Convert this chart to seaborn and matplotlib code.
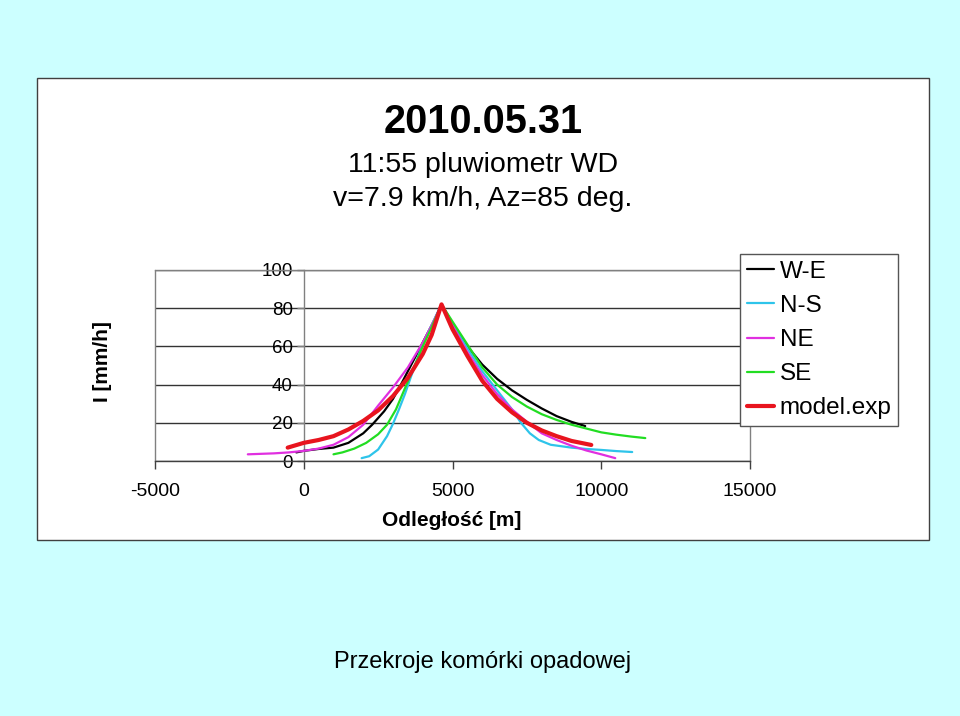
import matplotlib
matplotlib.use("Agg")
import matplotlib.pyplot as plt
from matplotlib.patches import Rectangle
from matplotlib.lines import Line2D
import seaborn as sns
import pandas as pd

# ---------------- data ----------------
we_x = [-250, 0, 500, 1000, 1500, 2000, 2300, 2700, 3000, 3300, 3700, 4100, 4400, 4631,
        5000, 5500, 6000, 6500, 7000, 7500, 8000, 8500, 9000, 9460]
we_y = [4.5, 5.3, 6.3, 7.0, 9.5, 14.5, 19, 26, 32.5, 41, 53, 65, 74, 82,
        72, 60, 50.5, 43, 37, 32, 27.5, 23.5, 20.5, 18.3]

ns_x = [1946, 2200, 2500, 2800, 3000, 3200, 3400, 3600, 3900, 4200, 4631,
        5000, 5500, 6000, 6500, 7000, 7300, 7600, 7900, 8300, 9000, 9500, 10000, 10500, 11040]
ns_y = [1.5, 2.5, 6, 13, 19.5, 27, 35, 44, 57, 68, 82,
        72, 59, 47, 37, 27, 20, 14.5, 11, 8.5, 7, 6.3, 5.8, 5.2, 4.7]

ne_x = [-1880, -1000, -500, 0, 500, 1000, 1500, 2000, 2350, 2500, 3000, 3500, 4000, 4300, 4631,
        5000, 5500, 6000, 6500, 7000, 7500, 8000, 8500, 9000, 9500, 10000, 10470]
ne_y = [3.5, 4, 4.5, 5.3, 6.5, 8.5, 12.5, 19, 26, 29, 38.5, 49, 62, 71, 82,
        71, 57, 45, 35, 27, 20.5, 14.5, 11, 8, 5.5, 3.5, 1.5]

se_x = [1000, 1300, 1700, 2100, 2500, 2800, 3100, 3400, 3700, 4000, 4300, 4631,
        5000, 5500, 6000, 6500, 7000, 7500, 8000, 8500, 9000, 9500, 10000, 10500, 11000, 11480]
se_y = [3.5, 4.5, 6.5, 9.5, 14, 19, 27, 38, 49, 60, 70, 82,
        73, 61, 49, 40, 33.5, 28.5, 24.5, 21.5, 19, 17, 15, 13.8, 12.8, 12]

model_x = [-540, 0, 500, 1000, 1500, 2000, 2500, 3000, 3500, 4000, 4300, 4631,
           5000, 5500, 6000, 6500, 7000, 7500, 8000, 8500, 9000, 9665]
model_y = [7, 9.5, 11, 13, 16.5, 21, 26.5, 34, 43.5, 56, 66, 82,
           69, 55, 42, 32.5, 25.5, 20, 16, 13, 10.5, 8.4]

series_names = ["W-E", "N-S", "NE", "SE", "model.exp"]
x_ticks = [-5000, 0, 5000, 10000, 15000]
y_ticks = [0, 20, 40, 60, 80, 100]

# ---------------- style ----------------
sns.set_style("white")
plt.rcParams["font.family"] = ["Liberation Sans", "DejaVu Sans"]
plt.rcParams["text.color"] = "black"
plt.rcParams["axes.labelcolor"] = "black"
plt.rcParams["xtick.color"] = "black"
plt.rcParams["ytick.color"] = "black"

colors = {"W-E": "#000000", "N-S": "#2EC4EA", "NE": "#E030E0",
          "SE": "#22DD22", "model.exp": "#E8141E"}
widths = {"W-E": 1.6, "N-S": 1.6, "NE": 1.6, "SE": 1.6, "model.exp": 3.0}

frames = []
for name, xs, ys in zip(series_names,
                        [we_x, ns_x, ne_x, se_x, model_x],
                        [we_y, ns_y, ne_y, se_y, model_y]):
    frames.append(pd.DataFrame({"x": xs, "y": ys, "series": name}))
df = pd.concat(frames, ignore_index=True)

W, H = 960, 716
fig = plt.figure(figsize=(W / 100, H / 100), dpi=100, facecolor="#CCFFFF")

# white chart area
fig.add_artist(Rectangle((37 / W, 1 - 540 / H), (929 - 37) / W, (540 - 78) / H,
                         transform=fig.transFigure, facecolor="white",
                         edgecolor="#404040", lw=1, zorder=0))

ax = fig.add_axes([155 / W, 1 - 461 / H, (750 - 155) / W, (461 - 270) / H])
ax.set_facecolor("white")

for name in series_names:
    sub = df[df["series"] == name]
    sns.lineplot(data=sub, x="x", y="y", ax=ax, color=colors[name],
                 lw=widths[name], sort=False, estimator=None, legend=False,
                 zorder=3 if name != "model.exp" else 4)

ax.set_xlim(-5000, 15000)
ax.set_ylim(0, 100)
ax.set_xticks(x_ticks)
ax.set_xticklabels([str(v) for v in x_ticks])
ax.set_yticks(y_ticks)
ax.set_yticklabels([str(v) for v in y_ticks])
ax.set_xlabel("")
ax.set_ylabel("")

ax.yaxis.grid(True, color="#333333", lw=1)
ax.xaxis.grid(False)
ax.set_axisbelow(True)

ax.spines["left"].set_position(("data", 0))
ax.spines["left"].set_color("#808080")
ax.spines["left"].set_linewidth(1)
for s in ["top", "right"]:
    ax.spines[s].set_visible(True)
    ax.spines[s].set_color("#808080")
    ax.spines[s].set_linewidth(1)
ax.spines["bottom"].set_color("#404040")
ax.spines["bottom"].set_linewidth(1)
ax.axvline(-5000, color="#808080", lw=1, clip_on=False, zorder=2)

ax.tick_params(axis="x", direction="out", length=6, width=1, color="#404040",
               labelcolor="black", pad=10, labelsize=14, bottom=True)
ax.tick_params(axis="y", direction="out", length=5, width=1, color="#808080",
               labelcolor="black", pad=3, labelsize=13.5, left=True)

# texts
fig.text(483 / W, 1 - 122 / H, "2010.05.31", ha="center", va="center",
         fontsize=28.5, fontweight="bold", color="black")
fig.text(483 / W, 1 - 165 / H, "11:55 pluwiometr WD", ha="center", va="center",
         fontsize=20.5, color="black")
fig.text(483 / W, 1 - 199 / H, "v=7.9 km/h, Az=85 deg.", ha="center", va="center",
         fontsize=20.5, color="black")
fig.text(452 / W, 1 - 521 / H, "Odległość [m]", ha="center", va="center",
         fontsize=15, fontweight="bold", color="black")
fig.text(103 / W, 1 - 362 / H, "I [mm/h]", ha="center", va="center",
         fontsize=15, fontweight="bold", rotation=90, color="black")
fig.text(483 / W, 1 - 662 / H, "Przekroje komórki opadowej", ha="center",
         va="center", fontsize=17, color="black")

handles = [Line2D([0], [0], color=colors[n], lw=widths[n]) for n in series_names]
leg = fig.legend(handles, series_names, loc="upper left",
                 bbox_to_anchor=(740 / W, 1 - 254 / H), frameon=True,
                 fancybox=False, edgecolor="#555555", framealpha=1,
                 fontsize=17.5, handlelength=1.1, handletextpad=0.25,
                 labelspacing=0.5, borderpad=0.28, borderaxespad=0)
leg.get_frame().set_linewidth(1)
for t in leg.get_texts():
    t.set_color("black")

fig.savefig("out.png", dpi=100, facecolor=fig.get_facecolor())
